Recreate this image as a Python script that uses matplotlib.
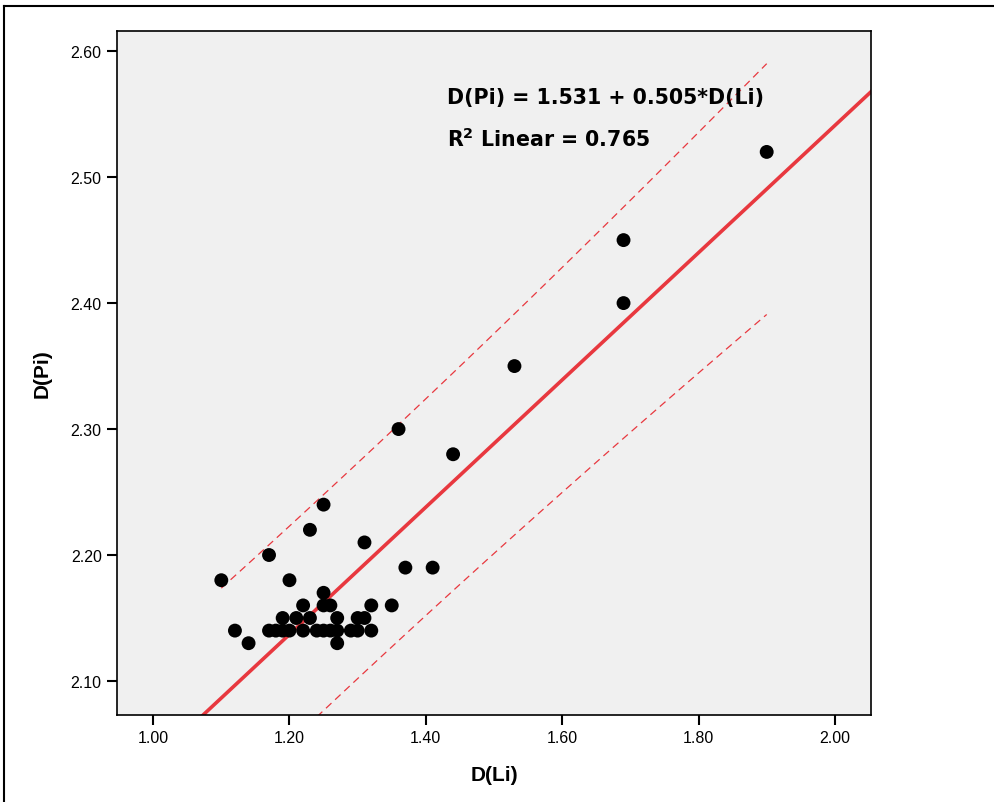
import numpy as np
import matplotlib
matplotlib.use("Agg")
import matplotlib.pyplot as plt
from matplotlib.lines import Line2D

# Data
d_li = [1.10, 1.12, 1.14, 1.17, 1.17, 1.18, 1.19, 1.19, 1.20, 1.20,
        1.21, 1.22, 1.22, 1.23, 1.23, 1.24, 1.25, 1.25, 1.25, 1.25,
        1.26, 1.26, 1.27, 1.27, 1.27, 1.29, 1.30, 1.30, 1.31, 1.31,
        1.32, 1.32, 1.35, 1.36, 1.37, 1.41, 1.44, 1.53, 1.69, 1.69,
        1.90]
d_pi = [2.18, 2.14, 2.13, 2.20, 2.14, 2.14, 2.14, 2.15, 2.18, 2.14,
        2.15, 2.16, 2.14, 2.22, 2.15, 2.14, 2.24, 2.17, 2.16, 2.14,
        2.16, 2.14, 2.15, 2.14, 2.13, 2.14, 2.15, 2.14, 2.21, 2.15,
        2.16, 2.14, 2.16, 2.30, 2.19, 2.19, 2.28, 2.35, 2.45, 2.40,
        2.52]

# Fit reported on the chart
intercept = 1.531
slope = 0.505
r2 = 0.765

x_ticks = [1.00, 1.20, 1.40, 1.60, 1.80, 2.00]
y_ticks = [2.10, 2.20, 2.30, 2.40, 2.50, 2.60]

RED = "#E8383F"

x = np.array(d_li)
y = np.array(d_pi)
n = len(x)

# 95% prediction interval around the fit
resid = y - (intercept + slope * x)
s = np.sqrt(np.sum(resid ** 2) / (n - 2))
sxx = np.sum((x - x.mean()) ** 2)
t_crit = 2.0
xs = np.linspace(x.min(), x.max(), 50)
half = t_crit * s * np.sqrt(1 + 1 / n + (xs - x.mean()) ** 2 / sxx)

fig = plt.figure(figsize=(9.95, 8.03), dpi=100)
ax = fig.add_axes([117 / 995, 1 - 716 / 803, 754 / 995, 684 / 803])
ax.set_facecolor("#F0F0F0")

xlim = (0.947, 2.053)
ax.set_xlim(*xlim)
ax.set_ylim(2.073, 2.616)

xl = np.array(xlim)
ax.plot(xl, intercept + slope * xl, color=RED, lw=2.6, zorder=2)
ax.plot(xs, intercept + slope * xs + half, color=RED, lw=0.9, ls=(0, (6, 4)), zorder=2)
ax.plot(xs, intercept + slope * xs - half, color=RED, lw=0.9, ls=(0, (6, 4)), zorder=2)

ax.scatter(x, y, s=100, color="black", edgecolors="none", zorder=3)

ax.set_xticks(x_ticks)
ax.set_yticks(y_ticks)
ax.set_xticklabels([f"{v:.2f}" for v in x_ticks], family="Liberation Sans", fontsize=11.5)
ax.set_yticklabels([f"{v:.2f}" for v in y_ticks], family="Liberation Sans", fontsize=11.5)
ax.tick_params(direction="out", length=7, width=1.5, color="black", pad=4)

for sp in ax.spines.values():
    sp.set_linewidth(1.2)
    sp.set_color("black")

ax.set_xlabel("D(Li)", family="Liberation Sans", fontweight="bold", fontsize=15, labelpad=14)
ax.set_ylabel("D(Pi)", family="Liberation Sans", fontweight="bold", fontsize=15, labelpad=14)

ax.text(447 / 995, 1 - 104 / 803, f"D(Pi) = {intercept:.3f} + {slope:.3f}*D(Li)",
        transform=fig.transFigure, fontsize=14.8, fontweight="bold",
        family="DejaVu Sans", va="baseline")
ax.text(447 / 995, 1 - 147 / 803, r"R$^\mathbf{2}$ " + f"Linear = {r2:.3f}",
        transform=fig.transFigure, fontsize=14.8, fontweight="bold",
        family="DejaVu Sans", va="baseline")

# outer frame
fig.add_artist(Line2D([4 / 995, 1], [1 - 7 / 803, 1 - 7 / 803], color="black", lw=1.5))
fig.add_artist(Line2D([4 / 995, 4 / 995], [0, 1 - 7 / 803], color="black", lw=1.5))

fig.savefig("out.png", dpi=100)
